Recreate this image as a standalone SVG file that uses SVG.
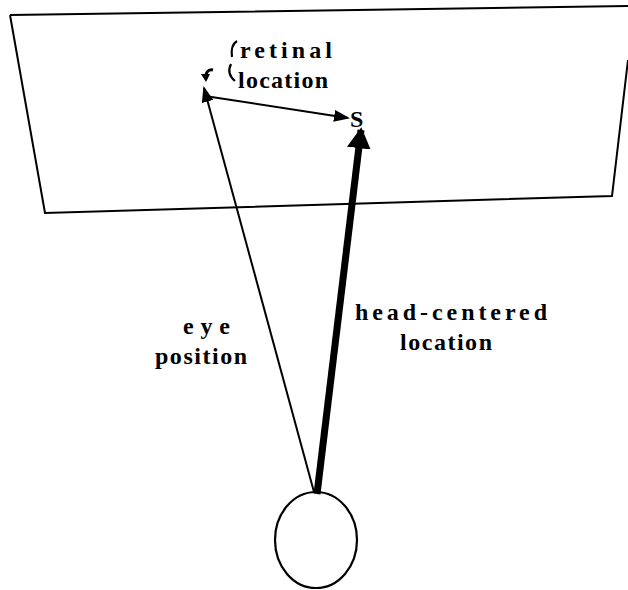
<svg xmlns="http://www.w3.org/2000/svg" width="628" height="590" viewBox="0 0 628 590">
<style>
.lbl{font-family:"Liberation Serif",serif;font-weight:bold;font-size:24px;fill:#000}
.ln{stroke:#000;fill:none}
</style>
<defs>
<marker id="ah" markerWidth="8" markerHeight="6" refX="7" refY="3" orient="auto" markerUnits="strokeWidth"><path d="M0,0 L8,3 L0,6 Z" fill="#000"/></marker>
<marker id="ahb" markerWidth="3" markerHeight="3.4" refX="2.6" refY="1.7" orient="auto" markerUnits="strokeWidth"><path d="M0,0 L3,1.7 L0,3.4 Z" fill="#000"/></marker>
</defs>
<g id="plane"><path class="ln" stroke-width="2" d="M10,15 L628,6 M628,60 L612,196 L45,213 L10,15"/></g>
<g id="eye"><ellipse cx="316" cy="540" rx="41" ry="48" class="ln" stroke-width="2.2"/></g>
<g id="connectors">
<line x1="314" y1="492" x2="204" y2="88" class="ln" stroke-width="2" marker-end="url(#ah)"/>
<line x1="205" y1="96" x2="348" y2="118" class="ln" stroke-width="2" marker-end="url(#ah)"/>
<line x1="317" y1="494" x2="361" y2="130" class="ln" stroke-width="7" marker-end="url(#ahb)"/>
</g>
<g id="marks">
<path d="M213,70 C208,69 205,73 206,79" class="ln" stroke-width="3"/>
<path d="M201,74 L206,82 L210,74 Z" fill="#000"/>
<path d="M237,41 C232,44 231,50 232,57 M231,64 C228,70 229,76 235,81" class="ln" stroke-width="2.2"/>
</g>
<g id="labels">
<text class="lbl" x="240" y="58" textLength="92" lengthAdjust="spacing">retinal</text>
<text class="lbl" x="238" y="88" textLength="90" lengthAdjust="spacing">location</text>
<text class="lbl" x="350" y="127" font-size="20">S</text>
<text class="lbl" x="183" y="334" textLength="47" lengthAdjust="spacing">eye</text>
<text class="lbl" x="155" y="364" textLength="92" lengthAdjust="spacing">position</text>
<text class="lbl" x="355" y="320" textLength="192" lengthAdjust="spacing">head-centered</text>
<text class="lbl" x="400" y="350" textLength="92" lengthAdjust="spacing">location</text>
</g>
</svg>
